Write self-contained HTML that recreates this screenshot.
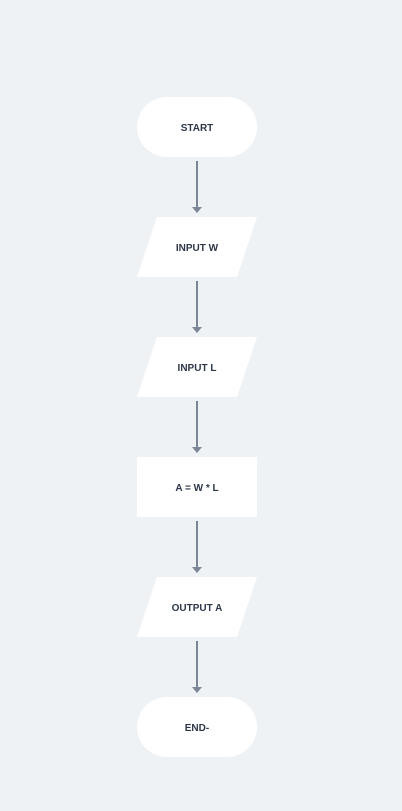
<!DOCTYPE html>
<html><head><style>
html,body{margin:0;padding:0;background:#eff2f5;width:402px;height:811px;overflow:hidden}
</style></head><body>
<svg width="402" height="811" xmlns="http://www.w3.org/2000/svg" style="display:block">
<rect width="402" height="811" fill="#eff2f5"/>
<g fill="#fff">
<rect x="137" y="97" width="120" height="60" rx="30"/>
<polygon points="157,217 257,217 237,277 137,277"/>
<polygon points="157,337 257,337 237,397 137,397"/>
<rect x="137" y="457" width="120" height="60"/>
<polygon points="157,577 257,577 237,637 137,637"/>
<rect x="137" y="697" width="120" height="60" rx="30"/>
</g>
<g stroke="#7b8794" stroke-width="2">
<line x1="197" y1="161" x2="197" y2="208"/>
<line x1="197" y1="281" x2="197" y2="328"/>
<line x1="197" y1="401" x2="197" y2="448"/>
<line x1="197" y1="521" x2="197" y2="568"/>
<line x1="197" y1="641" x2="197" y2="688"/>
</g>
<g fill="#7b8794">
<polygon points="192,207 202,207 197,213"/>
<polygon points="192,327 202,327 197,333"/>
<polygon points="192,447 202,447 197,453"/>
<polygon points="192,567 202,567 197,573"/>
<polygon points="192,687 202,687 197,693"/>
</g>
<g font-family="Liberation Sans, sans-serif" font-size="10" font-weight="bold" fill="#2d3748" text-anchor="middle">
<text x="197" y="131">START</text>
<text x="197" y="251">INPUT W</text>
<text x="197" y="371">INPUT L</text>
<text x="197" y="491">A = W * L</text>
<text x="197" y="611">OUTPUT A</text>
<text x="197" y="731">END-</text>
</g>
</svg>
</body></html>
